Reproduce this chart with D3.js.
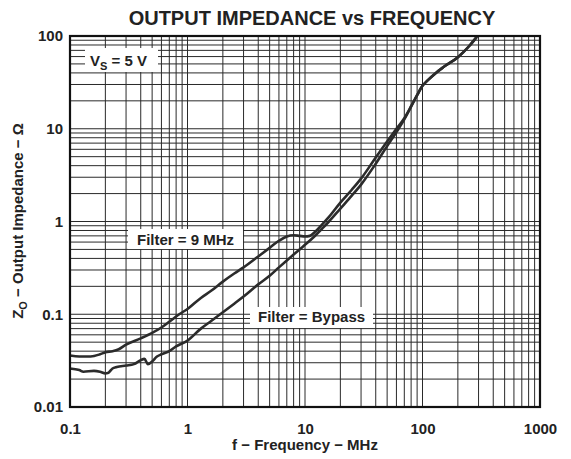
<!DOCTYPE html>
<html><head><meta charset="utf-8">
<script src="https://cdn.jsdelivr.net/npm/d3@7"></script>
<style>
html,body{margin:0;padding:0;background:#fff;}
text{font-family:"Liberation Sans",Arial,sans-serif;font-weight:bold;fill:#222;}
</style></head>
<body>
<svg id="c" width="571" height="459"></svg>
<script>
// ---- data ----
const xTickValues = [0.1, 1, 10, 100, 1000];
const xTickLabels = ["0.1", "1", "10", "100", "1000"];
const yTickValues = [0.01, 0.1, 1, 10, 100];
const yTickLabels = ["0.01", "0.1", "1", "10", "100"];

const freq9 = [0.1,0.12,0.15,0.18,0.2,0.23,0.26,0.3,0.4,0.5,0.6,0.7,0.85,1.0,1.3,1.6,2.0,2.5,3.0,4.0,5.0,6.0,7.0,8.0,9.0,10,11,12,14,16,20,25,30,40,50,60,70,80,90,100,110,130,150,200,250,290];
const z9    = [0.036,0.035,0.035,0.037,0.039,0.040,0.042,0.047,0.055,0.063,0.072,0.083,0.100,0.114,0.150,0.180,0.225,0.275,0.320,0.420,0.520,0.620,0.690,0.710,0.700,0.690,0.700,0.760,0.930,1.12,1.60,2.2,2.9,4.9,7.3,10.0,13.0,17.5,23,29,33,40,46,59,78,98];

const freqBypass = [0.1,0.12,0.13,0.16,0.18,0.2,0.21,0.23,0.25,0.3,0.35,0.4,0.43,0.46,0.5,0.55,0.6,0.7,0.8,1.0,1.3,1.6,2.0,2.5,3.0,4.0,5.0,6.0,7.0,8.0,9.0,10,12,14,16,20,25,30,40,50,60,70,80,90,100,110,130,150,200,250,290];
const zBypass    = [0.026,0.025,0.024,0.0245,0.024,0.023,0.0232,0.026,0.027,0.028,0.029,0.032,0.033,0.029,0.031,0.035,0.037,0.040,0.045,0.052,0.070,0.085,0.105,0.130,0.155,0.210,0.260,0.320,0.380,0.440,0.500,0.560,0.690,0.840,1.00,1.38,1.9,2.5,4.2,6.5,9.2,12.6,17.3,23,29,33,40,46,59,78,98];

const titleText = "OUTPUT IMPEDANCE vs FREQUENCY";
const xTitle = "f \u2212 Frequency \u2212 MHz";

// ---- drawing ----
const svg = d3.select("#c");
const L = 70, R = 540, T = 36, B = 407;
const x = d3.scaleLog().domain([0.1, 1000]).range([L, R]);
const y = d3.scaleLog().domain([0.01, 100]).range([B, T]);

// grid values
const xGrid = [], yGrid = [];
for (let d = -1; d <= 2; d++) for (let k = 1; k <= 9; k++) xGrid.push(k * Math.pow(10, d));
for (let d = -2; d <= 1; d++) for (let k = 1; k <= 9; k++) yGrid.push(k * Math.pow(10, d));

const g = svg.append("g");
g.selectAll("line.vx").data(xGrid).enter().append("line")
  .attr("x1", d => x(d)).attr("x2", d => x(d)).attr("y1", T).attr("y2", B)
  .attr("stroke", "#2a2a2a").attr("stroke-width", 1);
g.selectAll("line.hy").data(yGrid).enter().append("line")
  .attr("y1", d => y(d)).attr("y2", d => y(d)).attr("x1", L).attr("x2", R)
  .attr("stroke", "#2a2a2a").attr("stroke-width", 1);

// label boxes (white backgrounds)
function box(x0, y0, w, h) {
  svg.append("rect").attr("x", x0).attr("y", y0).attr("width", w).attr("height", h).attr("fill", "#fff");
}
box(85, 48, 73, 24);
box(128, 229, 115, 20);
box(250, 307, 123, 21);

// curves
const line = d3.line().x(d => x(d[0])).y(d => y(d[1])).curve(d3.curveMonotoneX);
svg.append("path").datum(freq9.map((f, i) => [f, z9[i]]))
  .attr("d", line).attr("fill", "none").attr("stroke", "#2b2b2b").attr("stroke-width", 2.6);
svg.append("path").datum(freqBypass.map((f, i) => [f, zBypass[i]]))
  .attr("d", line).attr("fill", "none").attr("stroke", "#2b2b2b").attr("stroke-width", 2.6);

// frame
svg.append("rect").attr("x", L).attr("y", T).attr("width", R - L).attr("height", B - T)
  .attr("fill", "none").attr("stroke", "#111").attr("stroke-width", 2.2);

// axes (tick labels via d3 axes)
const xAxis = d3.axisBottom(x).tickValues(xTickValues).tickFormat((d, i) => xTickLabels[i]).tickSize(0).tickPadding(0);
const xa = svg.append("g").attr("transform", `translate(0,${B + 16})`).call(xAxis);
xa.select(".domain").remove();
xa.selectAll("text").attr("font-size", 15).attr("dy", "0.71em").style("font-family", "'Liberation Sans',Arial,sans-serif").style("font-weight", "bold").attr("fill", "#222");

const yAxis = d3.axisLeft(y).tickValues(yTickValues).tickFormat((d, i) => yTickLabels[i]).tickSize(0).tickPadding(7);
const ya = svg.append("g").attr("transform", `translate(${L},0)`).call(yAxis);
ya.select(".domain").remove();
ya.selectAll("text").attr("font-size", 15).style("font-family", "'Liberation Sans',Arial,sans-serif").style("font-weight", "bold").attr("fill", "#222");

// title
svg.append("text").attr("x", 312).attr("y", 25).attr("text-anchor", "middle").attr("font-size", 20).text(titleText);

// x title
svg.append("text").attr("x", 305).attr("y", 450).attr("text-anchor", "middle").attr("font-size", 15).text(xTitle);

// y title (rotated)
const yt = svg.append("text").attr("transform", "translate(23,221) rotate(-90)").attr("text-anchor", "middle").attr("font-size", 15);
yt.append("tspan").text("Z");
yt.append("tspan").attr("font-size", 11).attr("dy", 4).text("O");
yt.append("tspan").attr("dy", -4).text(" \u2212 Output Impedance \u2212 \u03A9");

// annotations
const vs = svg.append("text").attr("x", 90).attr("y", 66).attr("font-size", 15);
vs.append("tspan").text("V");
vs.append("tspan").attr("font-size", 11).attr("dy", 4).text("S");
vs.append("tspan").attr("dy", -4).text(" = 5 V");

svg.append("text").attr("x", 137).attr("y", 245).attr("font-size", 15).text("Filter = 9 MHz");
svg.append("text").attr("x", 258).attr("y", 322).attr("font-size", 15).text("Filter = Bypass");
</script>
</body></html>
